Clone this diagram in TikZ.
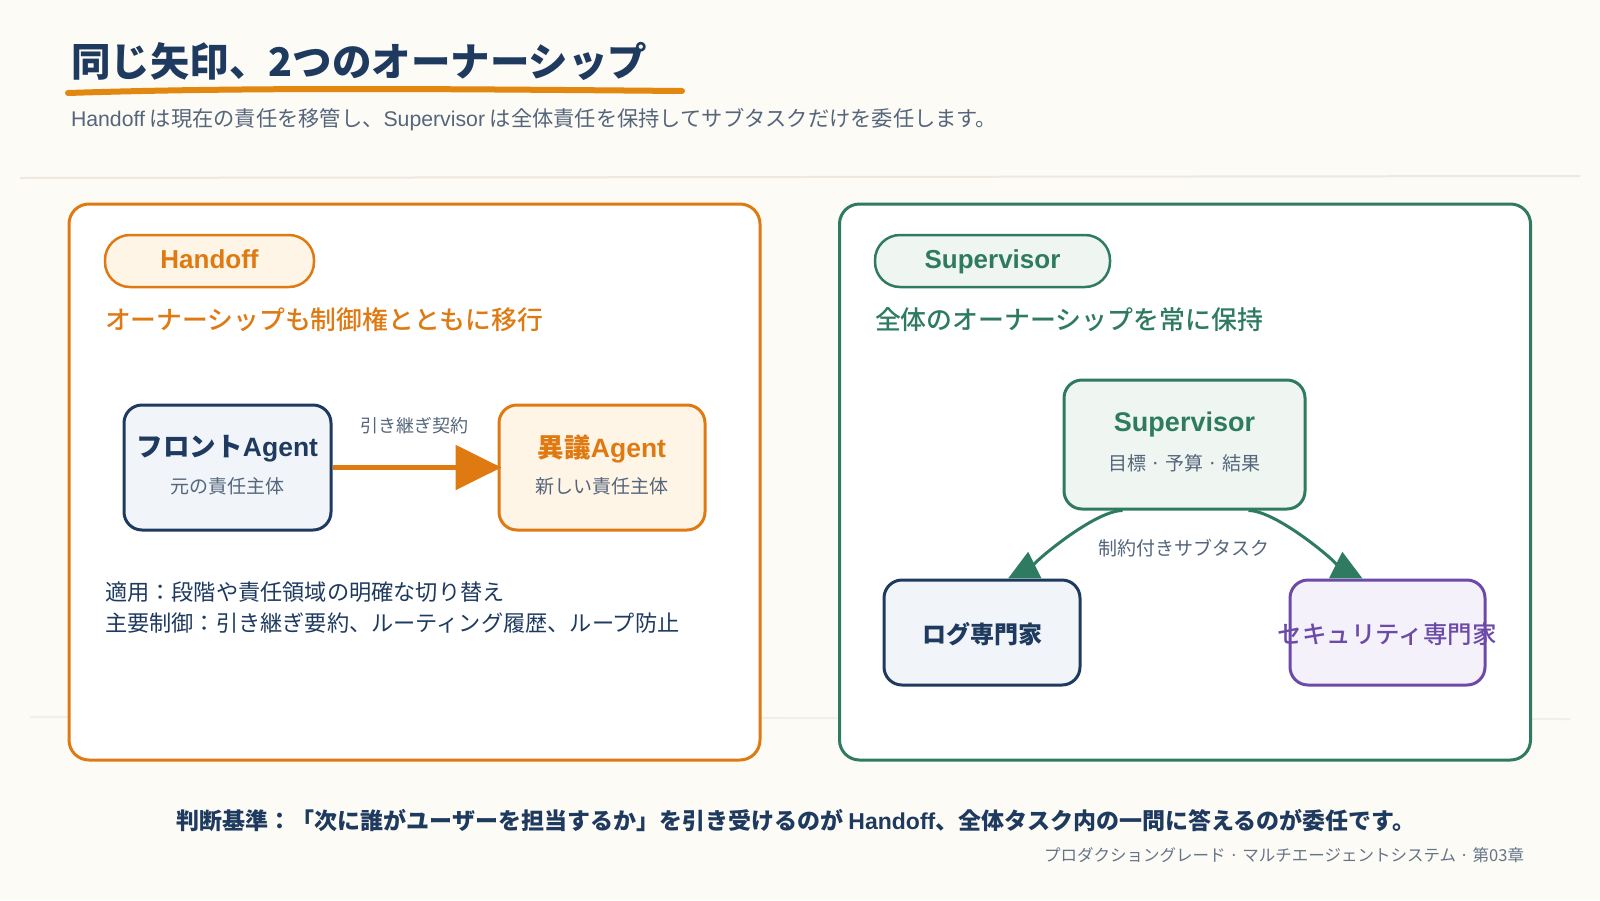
\documentclass[tikz,border=0pt]{standalone}
\usepackage{fontspec}
\setmainfont{Noto Sans CJK JP}
\newfontfamily\latin{Liberation Sans}
\newfontfamily\cjkmed{Noto Sans CJK JP Medium}
\usetikzlibrary{arrows.meta,positioning}
\definecolor{bgc}{HTML}{FDFBF6}
\definecolor{sepc}{HTML}{EEE8DE}
\definecolor{navy}{HTML}{1F3A5F}
\definecolor{grayt}{HTML}{55657B}
\definecolor{orng}{HTML}{DF7A12}
\definecolor{grn}{HTML}{2E7B61}
\definecolor{purp}{HTML}{6C4BA8}
\definecolor{orfill}{HTML}{FFF5E6}
\definecolor{grfill}{HTML}{EFF6F2}
\definecolor{nvfill}{HTML}{F1F5FA}
\definecolor{pufill}{HTML}{F5F1FA}
\newcommand\fsz[1]{\fontsize{#1}{#1}\selectfont}
\tikzset{node distance=2.0cm,
  txt/.style={inner sep=0pt, outer sep=0pt},
  panel/.style={draw=#1, line width=3pt, rounded corners=20pt, fill=white,
    minimum width=691pt, minimum height=556pt},
  pill/.style={draw=#1, line width=2.5pt, rounded corners=25pt,
    minimum height=52pt, inner sep=0pt, text height=19pt, text depth=5pt},
  agent/.style={draw=#1, line width=3pt, rounded corners=18pt, inner sep=0pt},
}

\begin{document}
\begin{tikzpicture}[x=1pt, y=-1pt]
\useasboundingbox (0,0) rectangle (1600,900);
\fill[bgc] (0,0) rectangle (1600,900);

% title
\node[txt, anchor=west, text=navy] (title) at (71,61)
  {\fsz{39.5}\bfseries 同じ矢印、2つのオーナーシップ};
\draw[orng!90!yellow, line width=6pt, line cap=round]
  (68,93) .. controls (250,87) and (450,89) .. (682,91);
\node[txt, anchor=west, text=grayt] (sub) at (71,120)
  {\fsz{21.25}{\latin Handoff} は現在の責任を移管し、{\latin Supervisor} は全体責任を保持してサブタスクだけを委任します。};
\draw[sepc, line width=2pt] (20,178) -- (1580,176);
\draw[sepc!70, line width=2pt] (30,717) -- (1570,719);

% panels
\node[panel=orng] (hpanel) at (414.5,482) {};
\node[panel=grn] (spanel) at (1185,482) {};

% handoff side
\node[pill=orng, fill=orfill, minimum width=209pt] (hpill) at (209.5,261)
  {\fsz{26}\latin\bfseries\color{orng}Handoff};
\node[txt, anchor=west, text=orng] (hhead) at (105,320)
  {\fsz{25.8}\cjkmed オーナーシップも制御権とともに移行};

\node[agent=navy, fill=nvfill, minimum width=207pt, minimum height=125pt] (front) at (227.5,467.5) {};
\node[txt, text=navy] (fronttl) at (227.5,449) {\fsz{26.5}\bfseries フロント{\latin Agent}};
\node[txt, text=grayt] (frontsb) at (227.5,486) {\fsz{19}元の責任主体};

\node[agent=orng, fill=orfill, minimum width=206pt, minimum height=125pt] (obj) at (602,467.5) {};
\node[txt, text=orng] (objtl) at (602,449) {\fsz{26.5}\bfseries 異議{\latin Agent}};
\node[txt, text=grayt] (objsb) at (602,486) {\fsz{19}新しい責任主体};

\draw[orng, line width=5.5pt, -{Triangle[length=46pt,width=44pt]}] (front) -- ([xshift=4pt]obj.west);
\node[txt, text=grayt] (hlbl) at (414,426) {\fsz{18}引き継ぎ契約};

\node[txt, anchor=west, text=navy] (use) at (105,592)
  {\fsz{22.2}適用：段階や責任領域の明確な切り替え};
\node[txt, anchor=west, text=navy] (ctrl) at (105,623)
  {\fsz{22.2}主要制御：引き継ぎ要約、ルーティング履歴、ループ防止};

% supervisor side
\node[pill=grn, fill=grfill, minimum width=235pt] (spill) at (992.5,261)
  {\fsz{26}\latin\bfseries\color{grn}Supervisor};
\node[txt, anchor=west, text=grn] (shead) at (875,320)
  {\fsz{25.9}\cjkmed 全体のオーナーシップを常に保持};

\node[agent=grn, fill=grfill, minimum width=241pt, minimum height=129pt] (sup) at (1184.5,444.5) {};
\node[txt, text=grn] (suptl) at (1184.5,425) {\fsz{27}\latin\bfseries Supervisor};
\node[txt, text=grayt] (supsb) at (1184.5,463) {\fsz{19}目標 · 予算 · 結果};

\node[agent=navy, fill=nvfill, minimum width=196pt, minimum height=105pt] (logb) at (982,632.5) {};
\node[txt, text=navy] (logtx) at (982,634) {\fsz{24}\bfseries ログ専門家};
\node[agent=purp, fill=pufill, minimum width=195pt, minimum height=105pt] (secb) at (1387.5,632.5) {};
\node[txt, text=purp] (sectx) at (1387,634) {\fsz{24.5}\cjkmed セキュリティ専門家};

\draw[grn, line width=3pt, -{Triangle[length=30pt,width=29pt]}]
  ([xshift=-62pt]sup.south) .. controls +(-30,0) and +(16,-8) .. ([xshift=26pt]logb.north);
\draw[grn, line width=3pt, -{Triangle[length=30pt,width=29pt]}]
  ([xshift=64pt]sup.south) .. controls +(30,0) and +(-16,-8) .. ([xshift=-25pt]secb.north);
\node[txt, text=grayt] (slbl) at (1184,548) {\fsz{19}制約付きサブタスク};

% footer
\node[txt, text=navy] (rule) at (796,821)
  {\fsz{23}\bfseries 判断基準：「次に誰がユーザーを担当するか」を引き受けるのが {\latin Handoff}、全体タスク内の一問に答えるのが委任です。};
\node[txt, anchor=east, text=grayt!90] (foot) at (1524,855)
  {\fsz{16.5}プロダクショングレード · マルチエージェントシステム · 第03章};
\end{tikzpicture}
\end{document}
